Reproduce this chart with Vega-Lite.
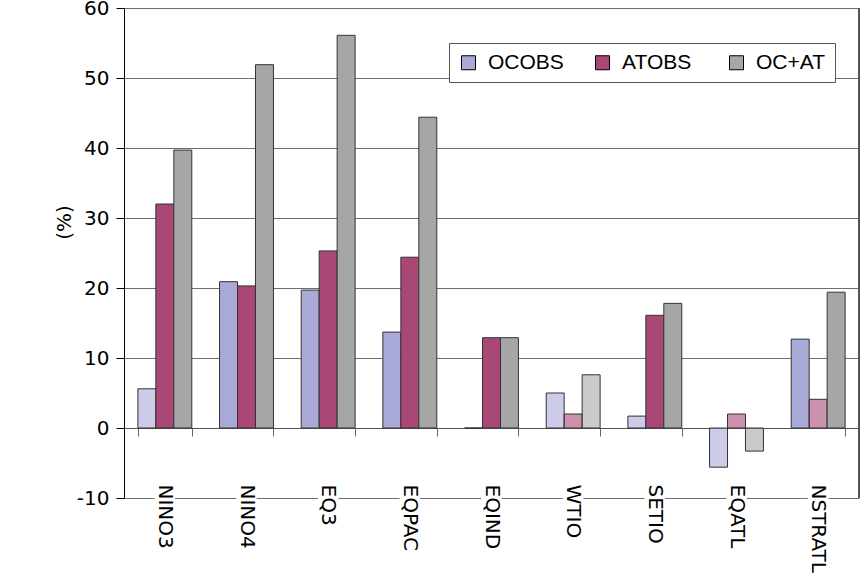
{
  "$schema": "https://vega.github.io/schema/vega-lite/v6.json",
  "width": 735,
  "height": 490,
  "autosize": {"type": "none"},
  "padding": {"left": 124, "top": 8, "right": 1, "bottom": 82},
  "background": "white",
  "config": {
    "view": {"stroke": null},
    "axis": {"labelFont": "DejaVu Sans", "titleFont": "DejaVu Sans", "labelColor": "#000", "titleColor": "#000"}
  },
  "data": {
    "values": [
      {"region": "NINO3", "series": "OCOBS", "value": 5.6, "hatched": "yes"},
      {"region": "NINO3", "series": "ATOBS", "value": 32.0, "hatched": "no"},
      {"region": "NINO3", "series": "OC+AT", "value": 39.7, "hatched": "no"},
      {"region": "NINO4", "series": "OCOBS", "value": 20.9, "hatched": "no"},
      {"region": "NINO4", "series": "ATOBS", "value": 20.3, "hatched": "no"},
      {"region": "NINO4", "series": "OC+AT", "value": 51.9, "hatched": "no"},
      {"region": "EQ3", "series": "OCOBS", "value": 19.7, "hatched": "no"},
      {"region": "EQ3", "series": "ATOBS", "value": 25.3, "hatched": "no"},
      {"region": "EQ3", "series": "OC+AT", "value": 56.1, "hatched": "no"},
      {"region": "EQPAC", "series": "OCOBS", "value": 13.7, "hatched": "no"},
      {"region": "EQPAC", "series": "ATOBS", "value": 24.4, "hatched": "no"},
      {"region": "EQPAC", "series": "OC+AT", "value": 44.4, "hatched": "no"},
      {"region": "EQIND", "series": "OCOBS", "value": 0, "hatched": "no"},
      {"region": "EQIND", "series": "ATOBS", "value": 12.9, "hatched": "no"},
      {"region": "EQIND", "series": "OC+AT", "value": 12.9, "hatched": "no"},
      {"region": "WTIO", "series": "OCOBS", "value": 5.0, "hatched": "yes"},
      {"region": "WTIO", "series": "ATOBS", "value": 2.0, "hatched": "yes"},
      {"region": "WTIO", "series": "OC+AT", "value": 7.6, "hatched": "yes"},
      {"region": "SETIO", "series": "OCOBS", "value": 1.7, "hatched": "yes"},
      {"region": "SETIO", "series": "ATOBS", "value": 16.1, "hatched": "no"},
      {"region": "SETIO", "series": "OC+AT", "value": 17.8, "hatched": "no"},
      {"region": "EQATL", "series": "OCOBS", "value": -5.6, "hatched": "yes"},
      {"region": "EQATL", "series": "ATOBS", "value": 2.0, "hatched": "yes"},
      {"region": "EQATL", "series": "OC+AT", "value": -3.3, "hatched": "yes"},
      {"region": "NSTRATL", "series": "OCOBS", "value": 12.7, "hatched": "no"},
      {"region": "NSTRATL", "series": "ATOBS", "value": 4.1, "hatched": "yes"},
      {"region": "NSTRATL", "series": "OC+AT", "value": 19.4, "hatched": "no"}
    ]
  },
  "layer": [
    {
      "mark": {"type": "bar", "stroke": "#333333", "strokeWidth": 1},
      "encoding": {
        "x": {
          "field": "region", "type": "nominal", "sort": null,
          "scale": {"paddingInner": 0.34, "paddingOuter": 0.17},
          "axis": {
            "orient": "bottom", "title": null, "labels": false, "offset": -70,
            "tickBand": "extent", "ticks": true, "tickSize": 8, "tickColor": "#666666",
            "domain": true, "domainColor": "#555555", "grid": false
          }
        },
        "xOffset": {"field": "series", "type": "nominal", "sort": ["OCOBS", "ATOBS", "OC+AT"], "scale": {"paddingInner": 0, "paddingOuter": 0}},
        "y": {
          "field": "value", "type": "quantitative",
          "scale": {"domain": [-10, 60], "nice": false, "zero": false},
          "axis": {
            "values": [-10, 0, 10, 20, 30, 40, 50, 60],
            "labelExpr": "'' + datum.value",
            "title": "(%)", "titleFontSize": 20, "titleFontWeight": "normal",
            "titleAngle": -90, "titleX": -60, "titleY": 214, "titleAlign": "center", "titleBaseline": "middle",
            "labelFontSize": 20, "labelPadding": 7, "tickSize": 8, "tickColor": "#000",
            "domainColor": "#000", "grid": true, "gridColor": "#6e6e6e"
          }
        },
        "color": {
          "field": "series", "type": "nominal", "sort": ["OCOBS", "ATOBS", "OC+AT"],
          "scale": {"domain": ["OCOBS", "ATOBS", "OC+AT"], "range": ["#aaaad8", "#a94777", "#a6a6a6"]},
          "legend": {
            "title": null, "orient": "none", "legendX": 325, "legendY": 35,
            "direction": "horizontal", "fillColor": "white", "strokeColor": "#555555",
            "padding": 9, "columnPadding": 28, "gridAlign": "all",
            "labelFont": "Liberation Sans", "labelFontSize": 21,
            "labelColor": "#000", "labelOffset": 9, "symbolType": "square", "symbolSize": 196,
            "symbolStrokeColor": "#000", "symbolStrokeWidth": 1, "symbolOpacity": 1
          }
        },
        "fillOpacity": {
          "field": "hatched", "type": "nominal",
          "scale": {"domain": ["no", "yes"], "range": [1, 0.6]},
          "legend": null
        }
      }
    },
    {
      "mark": {"type": "rule", "color": "#555555", "strokeWidth": 1},
      "encoding": {"x": {"value": "width"}, "y": {"datum": -10}, "y2": {"datum": 60}}
    },
    {
      "transform": [{"filter": "datum.series === 'OCOBS'"}],
      "mark": {"type": "bar", "color": "white", "width": {"band": 0.38}},
      "encoding": {
        "x": {
          "field": "region", "type": "nominal", "sort": null,
          "axis": {
            "orient": "bottom", "title": null, "labelAngle": 90, "labelAlign": "left",
            "labelBaseline": "middle", "labelPadding": -14, "labelFontSize": 20,
            "ticks": false, "domain": false, "grid": false, "zindex": 1
          }
        },
        "y": {"datum": -10.5},
        "y2": {"datum": -9.5}
      }
    }
  ],
  "resolve": {"axis": {"x": "independent"}}
}
